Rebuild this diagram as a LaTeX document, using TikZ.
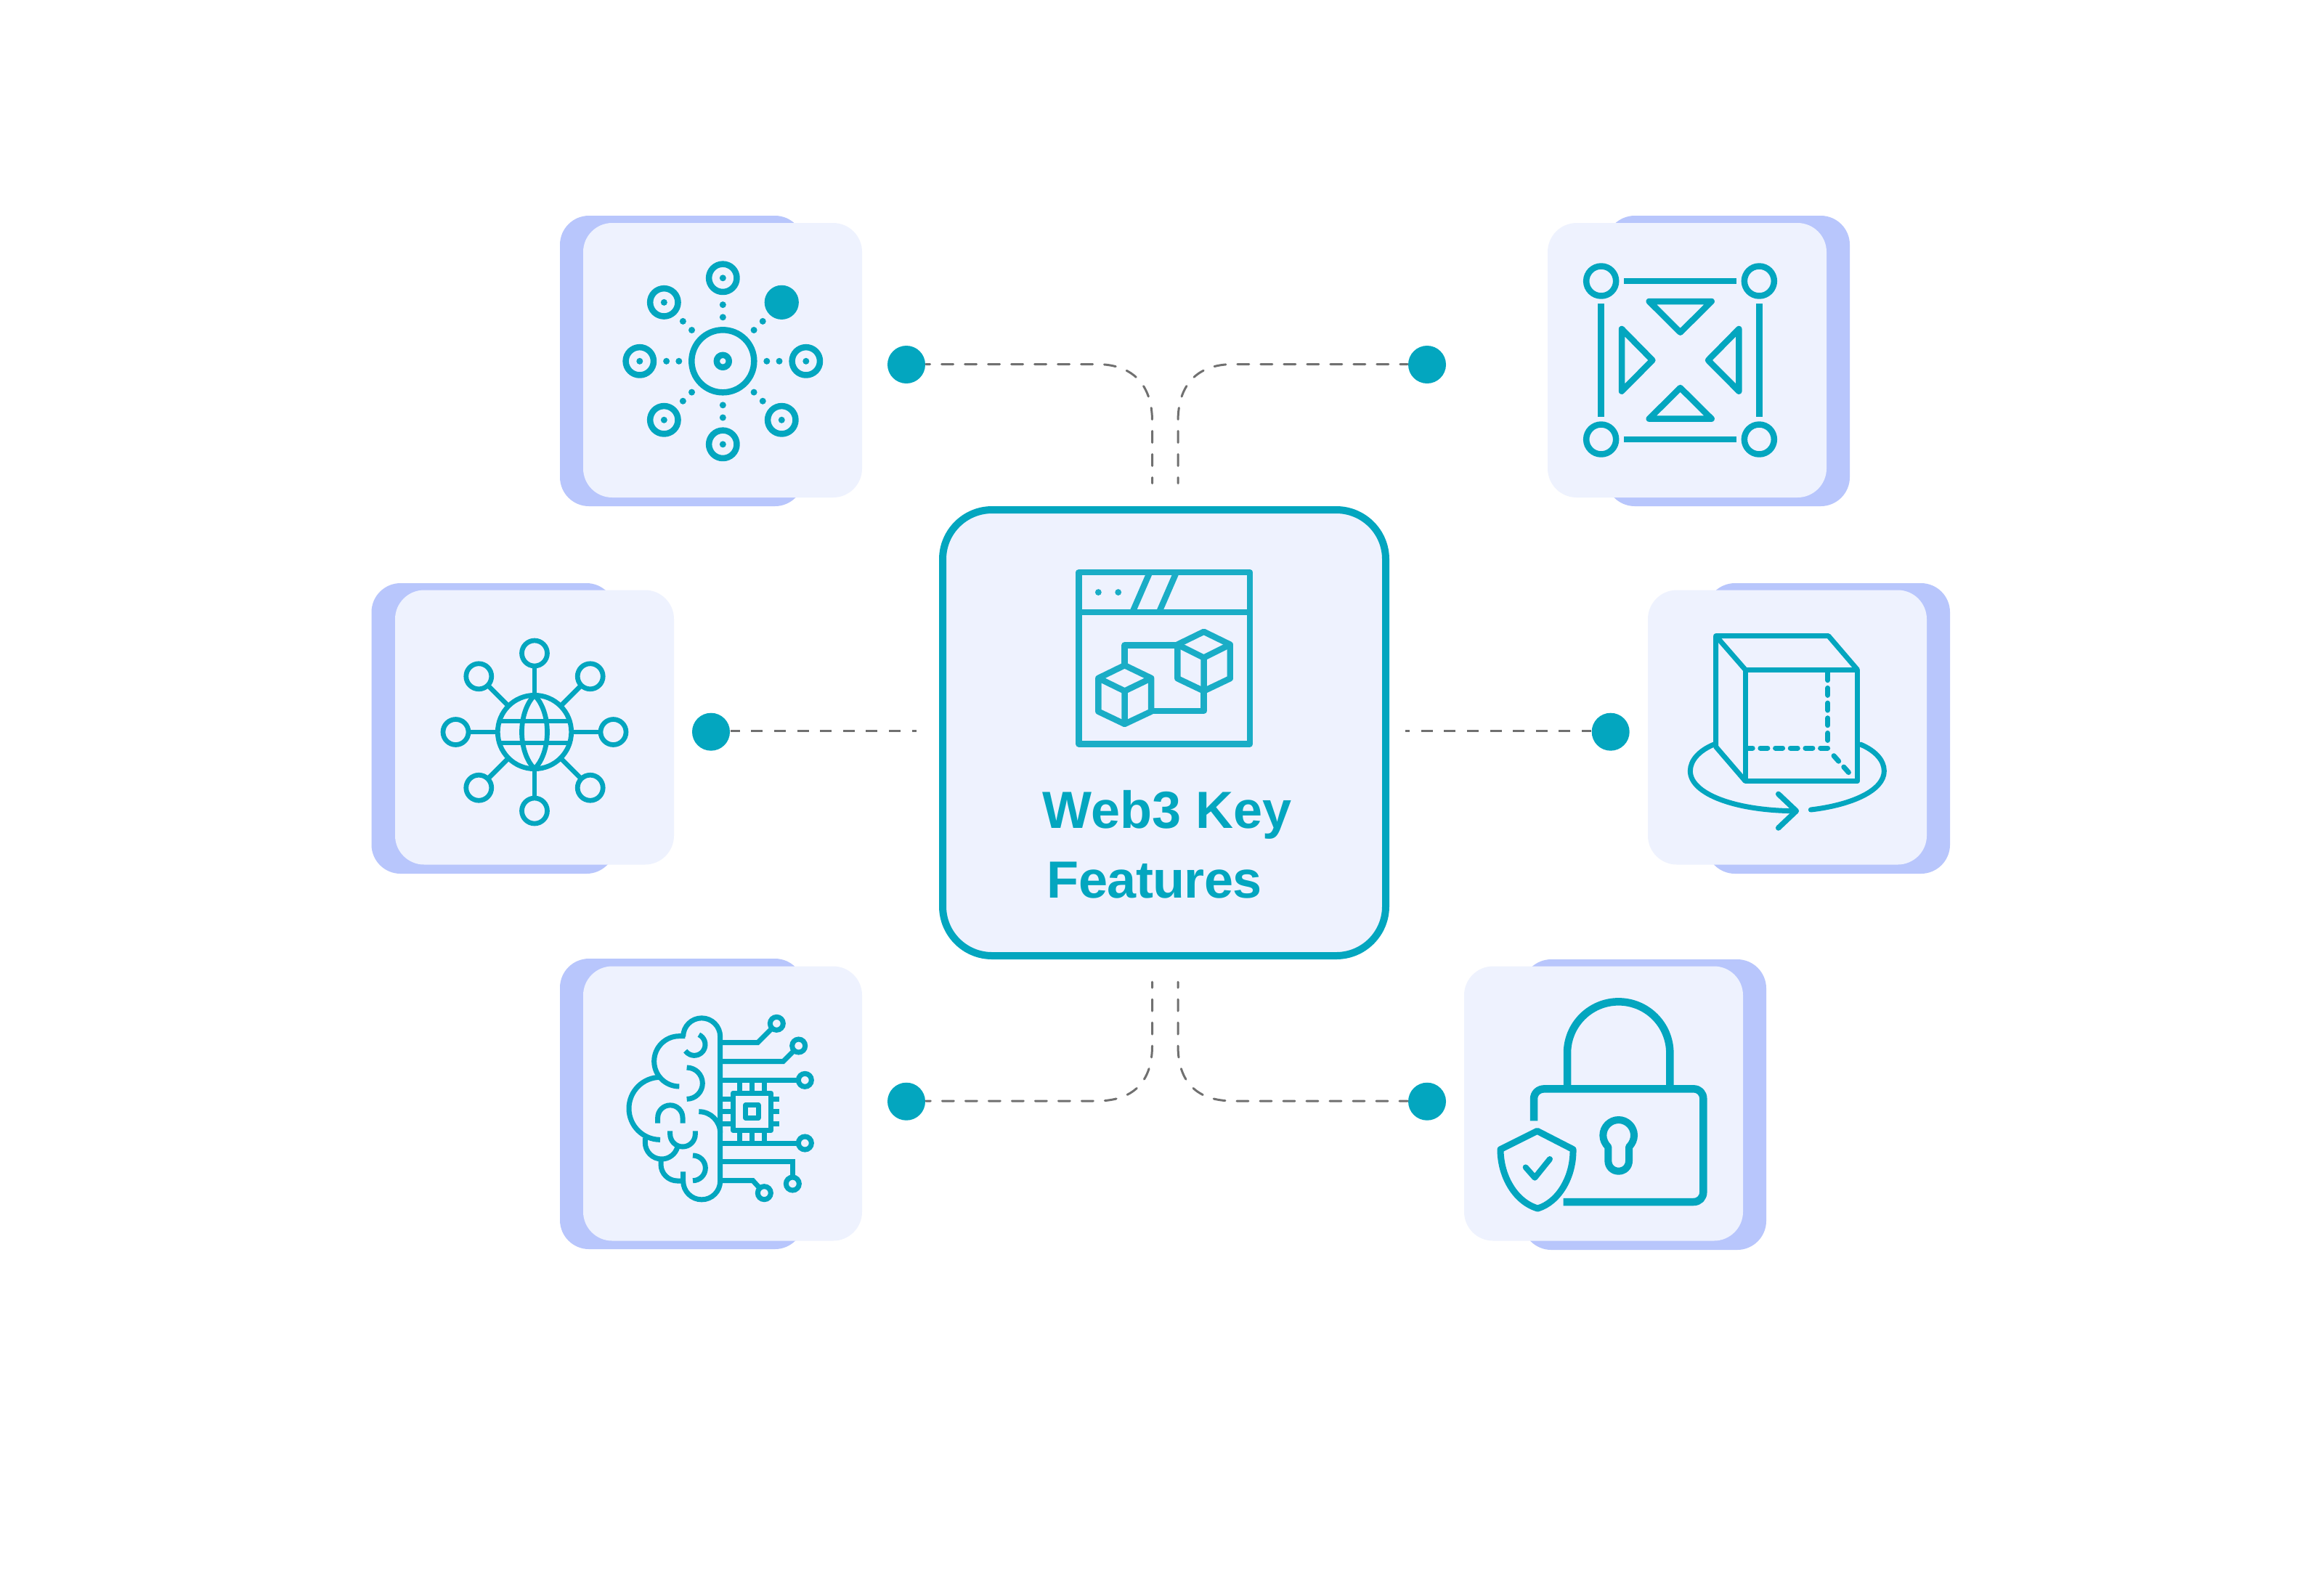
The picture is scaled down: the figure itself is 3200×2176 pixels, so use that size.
\documentclass[tikz,border=0pt]{standalone}
\usepackage{fontspec}
\setmainfont{Liberation Sans}
\definecolor{webteal}{HTML}{03A6BF}
\definecolor{iconteal}{HTML}{1AADC6}
\definecolor{cardback}{HTML}{B8C6FC}
\definecolor{cardfront}{HTML}{EEF2FE}
\definecolor{linkgray}{HTML}{707070}
\tikzset{
  px/.style={x=0.25pt,y=-0.25pt},
  backcard/.style={fill=cardback,rounded corners=10pt,minimum width=84pt,minimum height=100pt,inner sep=0pt},
  frontcard/.style={fill=cardfront,rounded corners=10pt,minimum width=96pt,minimum height=94.5pt,inner sep=0pt},
  hubbox/.style={draw=webteal,fill=cardfront,line width=2.5pt,rounded corners=17pt,minimum width=152.5pt,minimum height=153.5pt,inner sep=0pt},
  enddot/.style={circle,fill=webteal,minimum size=13pt,inner sep=0pt},
  link/.style={draw=linkgray,line width=0.75pt,line cap=round,dash pattern=on 4pt off 4pt,dash phase=2pt},
  straightlink/.style={draw=linkgray,line width=0.9pt,dash pattern=on 4pt off 3.9pt,dash phase=0.75pt},
  lw/.style={line width=#1*0.25pt},
  tealic/.style={draw=webteal,lw=#1,line join=round},
  titletext/.style={text=webteal,font=\fontsize{18}{22}\selectfont\bfseries,inner sep=0pt,anchor=base west},
}
\begin{document}
\begin{tikzpicture}[px]
\useasboundingbox (0,0) rectangle (3200,2176);
\fill[white] (0,0) rectangle (3200,2176);

% cards
\node[backcard] (b1) at (939,497) {};
\node[frontcard] (c1) at (995,496) {};
\node[backcard] (b2) at (2379,497) {};
\node[frontcard] (c2) at (2323,496) {};
\node[backcard] (b3) at (679.5,1003) {};
\node[frontcard] (c3) at (736,1001.5) {};
\node[backcard] (b4) at (2517,1003) {};
\node[frontcard] (c4) at (2461,1001.5) {};
\node[backcard] (b5) at (939,1520) {};
\node[frontcard] (c5) at (995,1519.5) {};
\node[backcard] (b6) at (2264,1521) {};
\node[frontcard] (c6) at (2208,1519.5) {};

% hub
\node[hubbox] (hub) at (1603,1009) {};

% dots
\node[enddot] (d1) at (1248,502) {};
\node[enddot] (d2) at (1965,502) {};
\node[enddot] (d3) at (1248,1516.7) {};
\node[enddot] (d4) at (1965,1516.7) {};
\node[enddot] (d5) at (979,1007.7) {};
\node[enddot] (d6) at (2217.7,1007.7) {};

% free ends of connectors and level of each run
\coordinate (f1) at (1586.5,665.5);
\coordinate (f2) at (1622,665.5);
\coordinate (f3) at (1586.5,1352);
\coordinate (f4) at (1622,1352);
\coordinate (f5) at (1262,1006.3);
\coordinate (f6) at (1934.7,1006.3);
\coordinate (j1) at (1510,501.5);
\coordinate (j2) at (1698,501.5);
\coordinate (j3) at (1510,1516);
\coordinate (j4) at (1698,1516);

\draw[link] (f1) -- (1586.5,580) .. controls (1586.5,530) and (1560,501.5) .. (j1) -- (d1.east |- j1);
\draw[link] (f2) -- (1622,580) .. controls (1622,530) and (1648,501.5) .. (j2) -- (d2.west |- j2);
\draw[link] (f3) -- (1586.5,1440) .. controls (1586.5,1490) and (1560,1516) .. (j3) -- (d3.east |- j3);
\draw[link] (f4) -- (1622,1440) .. controls (1622,1490) and (1648,1516) .. (j4) -- (d4.west |- j4);
\draw[straightlink] (d5.east |- f5) -- (f5);
\draw[straightlink] (d6.west |- f6) -- (f6);

% hub text
\node[titletext] (t1) at (1435,1140) {Web3 Key};
\node[titletext] (t2) at (1441,1236) {\addfontfeature{LetterSpace=-0.8}Features};

% icon: hub window and cubes
\begin{scope}[shift={(1280,680)},scale=0.4209]
  \begin{scope}[draw=iconteal,line width=2.1pt,line join=round]
    \draw (488,257) rectangle (1048,818);
    \draw (488,387) -- (1048,387);
    \draw (718,262) -- (665,384);
    \draw (805,262) -- (752,384);
    \fill[iconteal] (552,322) circle[radius=10.5] (617,322) circle[radius=10.5];
    % left cube
    \draw (638,561) -- (725,603) -- (725,712) -- (638,753) -- (552,712) -- (552,603) -- cycle;
    \draw (552,603) -- (638,645) -- (725,603) (638,645) -- (638,753);
    % right cube
    \draw (897,451) -- (983,493) -- (983,604) -- (897,645) -- (811,604) -- (811,493) -- cycle;
    \draw (811,493) -- (897,536) -- (983,493) (897,536) -- (897,645);
    % links
    \draw (638,561) -- (638,495) -- (811,495);
    \draw (725,710) -- (897,710) -- (897,645);
  \end{scope}
\end{scope}

% icon 1: nodes around a target
\begin{scope}[shift={(995.3,497.3)}]
  \draw[tealic=8.5] (0,0) circle[radius=43];
  \draw[tealic=8.5] (0,0) circle[radius=8.5];
  \foreach \a in {0,45,90,135,180,225,270}{
    \draw[tealic=8.5] (\a:114.5) ++(0,0) circle[radius=19.2];
    \fill[webteal] (\a:114.5) circle[radius=4.5];
  }
  \fill[webteal] (-45:114.5) circle[radius=23.6];
  \foreach \a in {0,45,...,315}{
    \fill[webteal] (\a:60.5) circle[radius=4.5] (\a:77.7) circle[radius=4.5];
  }
\end{scope}

% icon 2: square with triangles
\begin{scope}[shift={(2120,280)},scale=1/3]
  \foreach \p in {(254,321),(907,321),(254,975),(907,975)}
    \draw[tealic=8.5] \p circle[radius=61.5];
  \draw[tealic=8.5] (348,321) -- (814,321);
  \draw[tealic=8.5] (348,975) -- (814,975);
  \draw[tealic=8.5] (254,415) -- (254,881);
  \draw[tealic=8.5] (907,415) -- (907,881);
  \draw[tealic=8.5] (452,405) -- (710,405) -- (581,533) -- cycle;
  \draw[tealic=8.5] (452,890) -- (710,890) -- (581,762) -- cycle;
  \draw[tealic=8.5] (339,519) -- (339,776) -- (466,648) -- cycle;
  \draw[tealic=8.5] (823,519) -- (823,776) -- (696,648) -- cycle;
\end{scope}

% icon 3: globe network
\begin{scope}[shift={(736,1008)}]
  \draw[tealic=6.7] (0,0) circle[radius=50.7];
  \draw[tealic=6.7] (0,-50.5) .. controls (-11,-40) and (-17.5,-20) .. (-17.5,0) .. controls (-17.5,20) and (-11,40) .. (0,50.5) .. controls (11,40) and (17.5,20) .. (17.5,0) .. controls (17.5,-20) and (11,-40) .. cycle;
  \draw[tealic=6.7] (-48.4,-15) -- (48.4,-15) (-48.4,15) -- (48.4,15);
  \foreach \a in {0,45,...,315}{
    \draw[tealic=6.7] (\a:108.5) circle[radius=17.5];
    \draw[tealic=6.7] (\a:50.7) -- (\a:91);
  }
\end{scope}

% icon 4: rotating cube
\begin{scope}[shift={(2260,790)},scale=1/3]
  \draw[tealic=7] (430,397) -- (893,397) -- (893,857) -- (430,857) -- cycle;
  \draw[tealic=7] (430,397) -- (308,257) -- (773,257) -- (893,397);
  \draw[tealic=7] (308,257) -- (308,715) -- (430,857);
  \draw[tealic=7,line cap=round,dash pattern=on 2.5pt off 2.67pt] (770,410) -- (770,720) -- (440,720);
  \draw[tealic=7,line cap=round,dash pattern=on 2.5pt off 2.67pt] (795,752) -- (860,825);
  \draw[tealic=7] (300,705) .. controls (240,730) and (202,770) .. (202,815) .. controls (202,910) and (390,980) .. (640,980);
  \draw[tealic=7,line cap=round] (905,705) .. controls (965,730) and (1003,770) .. (1003,815) .. controls (1003,895) and (870,955) .. (700,975);
  \draw[tealic=7.5,line cap=round] (566,910) -- (640,980) -- (566,1050);
\end{scope}

% icon 5: brain and circuit
\begin{scope}[shift={(830,1370)},scale=1/3]
  \begin{scope}[lw=7,draw=webteal]
    \draw (332,172) arc[start angle=180,end angle=360,radius=76.5] -- (485,769) arc[start angle=0,end angle=180,radius=76.5] -- (332,730);
    \draw (340,170) -- (316,170) arc[start angle=270,end angle=90,radius=104];
    \draw (232,340) -- (237,340) arc[start angle=270,end angle=90,radius=129];
    \draw (175,590) -- (175,610) arc[start angle=180,end angle=15,radius=68];
    \draw (240,678) -- (240,700) arc[start angle=180,end angle=90,radius=68] -- (332,768);
    \draw (397,164.2) arc[start angle=-65,end angle=145,radius=45];
    \draw (347,300) arc[start angle=-90,end angle=90,radius=65];
    \draw (227,530) -- (227,507) arc[start angle=180,end angle=360,radius=51.5] -- (330,530);
    \draw (278,562) -- (278,575) arc[start angle=180,end angle=0,radius=52] -- (382,562);
    \draw (397,482) arc[start angle=-90,end angle=0,radius=88];
    \draw (372,663) arc[start angle=-90,end angle=90,radius=52];
    % traces
    \draw (485,197) -- (640,197) -- (697,140);
    \draw (485,275) -- (745,275) -- (790,230);
    \draw (485,352) -- (808,352);
    \draw (485,612) -- (808,612);
    \draw (485,688) -- (785,688) -- (785,752);
    \draw (485,767) -- (620,767) -- (650,800);
    \foreach \p in {(718,118),(809,210),(835,352),(835,612),(784,780),(667,818)}
      \draw \p circle[radius=27];
    % chip
    \draw[line join=round] (538,405) rectangle (695,560);
    \draw[line join=round] (590,455) rectangle (642,508);
    \foreach \x in {564,615,667}{
      \draw (\x,352) -- (\x,405);
      \draw (\x,560) -- (\x,612);
    }
    \foreach \y in {430,482,533}{
      \draw (485,\y) -- (538,\y);
      \draw (695,\y) -- (730,\y);
    }
  \end{scope}
\end{scope}

% icon 6: padlock and shield
\begin{scope}[shift={(2030,1320)},scale=1/3]
  \draw[tealic=10.5] (384,538) -- (384,390) arc[start angle=180,end angle=360,radius=212] -- (808,538);
  \draw[tealic=10.5] (246,670) -- (246,580) .. controls (246,555) and (265,538) .. (290,538) -- (905,538) .. controls (930,538) and (946,555) .. (946,580) -- (946,963) .. controls (946,988) and (930,1005) .. (905,1005) -- (368,1005);
  \draw[tealic=10] (553,778) .. controls (540,765) and (532,748) .. (532,730) .. controls (532,695) and (561,666) .. (596,666) .. controls (631,666) and (660,695) .. (660,730) .. controls (660,748) and (652,765) .. (639,778) -- (639,835) .. controls (639,860) and (620,878) .. (596,878) .. controls (572,878) and (553,860) .. (553,835) -- cycle;
  \draw[tealic=9] (260,712) -- (408,788) .. controls (410,900) and (350,1005) .. (262,1032) .. controls (170,1005) and (108,900) .. (108,788) -- cycle;
  \draw[tealic=8,line cap=round] (212,862) -- (250,905) -- (312,828);
\end{scope}
\end{tikzpicture}
\end{document}
